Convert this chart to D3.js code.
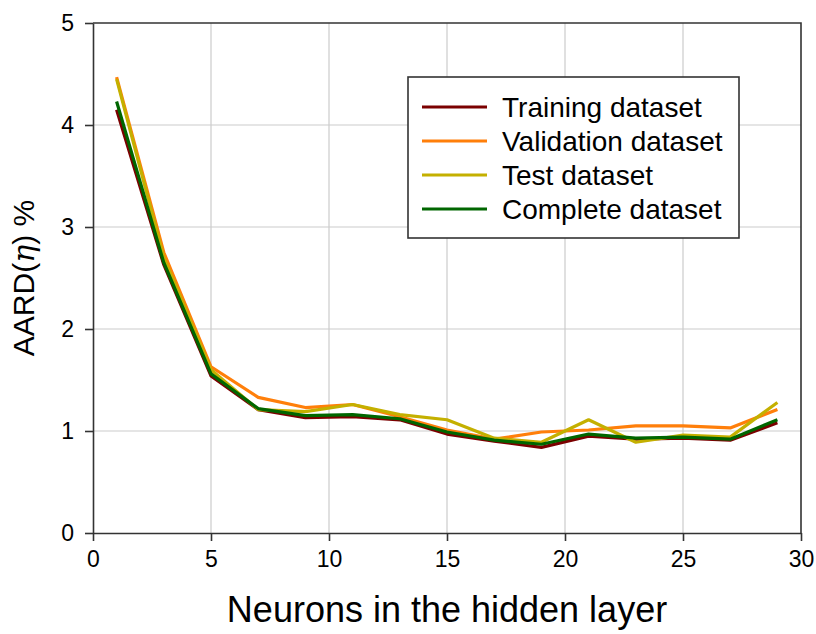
<!DOCTYPE html>
<html>
<head>
<meta charset="utf-8">
<script src="https://cdn.jsdelivr.net/npm/d3@7"></script>
<style>
  body { margin: 0; background: #fff; }
  svg { display: block; font-family: "Liberation Sans", Arial, sans-serif; }
</style>
</head>
<body>
<div id="mainDiv"></div>
<script>
const neurons = [1, 3, 5, 7, 9, 11, 13, 15, 17, 19, 21, 23, 25, 27, 29];

const training = [4.15, 2.63, 1.54, 1.21, 1.13, 1.14, 1.11, 0.97, 0.90, 0.84, 0.95, 0.92, 0.93, 0.91, 1.08];
const validation = [4.47, 2.75, 1.63, 1.33, 1.23, 1.26, 1.14, 1.01, 0.92, 0.99, 1.01, 1.05, 1.05, 1.03, 1.21];
const test = [4.45, 2.70, 1.60, 1.21, 1.19, 1.26, 1.16, 1.11, 0.93, 0.89, 1.11, 0.89, 0.96, 0.94, 1.28];
const complete = [4.23, 2.65, 1.56, 1.22, 1.15, 1.16, 1.12, 0.99, 0.91, 0.87, 0.97, 0.93, 0.94, 0.92, 1.11];

const seriesNames = ["Training dataset", "Validation dataset", "Test dataset", "Complete dataset"];
const seriesColors = ["#7b0000", "#ff7f0a", "#c4b000", "#006600"];

const xTicks = [0, 5, 10, 15, 20, 25, 30];
const yTicks = [0, 1, 2, 3, 4, 5];

const chart = {
  width: 816,
  height: 634,
  margin: { top: 23, right: 15, bottom: 101, left: 93 },
};

const seriesList = [training, validation, test, complete].map((values, i) => ({
  name: seriesNames[i],
  color: seriesColors[i],
  values: values,
}));

let x = d3.scaleLinear()
  .domain([0, 30])
  .range([chart.margin.left, chart.width - chart.margin.right]);

let y = d3.scaleLinear()
  .domain([0, 5])
  .range([chart.height - chart.margin.bottom, chart.margin.top]);

const svg = d3.select("#mainDiv")
  .append("svg")
  .attr("width", chart.width)
  .attr("height", chart.height);

// grid
svg.append("g")
  .selectAll("line")
  .data(xTicks.slice(1, -1))
  .join("line")
  .attr("x1", d => x(d))
  .attr("x2", d => x(d))
  .attr("y1", y(0))
  .attr("y2", y(5))
  .attr("stroke", "#cccccc")
  .attr("stroke-width", 1.2);

svg.append("g")
  .selectAll("line")
  .data(yTicks.slice(1, -1))
  .join("line")
  .attr("x1", x(0))
  .attr("x2", x(30))
  .attr("y1", d => y(d))
  .attr("y2", d => y(d))
  .attr("stroke", "#cccccc")
  .attr("stroke-width", 1.2);

// lines
let line = d3.line()
  .x((d, i) => x(neurons[i]))
  .y(d => y(d));

svg.append("g")
  .selectAll("path")
  .data(seriesList)
  .join("path")
  .attr("d", d => line(d.values))
  .attr("fill", "none")
  .attr("stroke", d => d.color)
  .attr("stroke-width", 3.2)
  .attr("stroke-linejoin", "round");

// axes
let xAxis = g => g
  .attr("transform", `translate(0,${y(0)})`)
  .call(d3.axisBottom(x).tickValues(xTicks).tickFormat(d3.format("d"))
    .tickSize(8).tickPadding(10).tickSizeOuter(0));

let yAxis = g => g
  .attr("transform", `translate(${x(0)},0)`)
  .call(d3.axisLeft(y).tickValues(yTicks).tickFormat(d3.format("d"))
    .tickSize(8).tickPadding(11).tickSizeOuter(0));

svg.append("g").call(xAxis);
svg.append("g").call(yAxis);

svg.selectAll(".tick text")
  .attr("font-size", 23)
  .attr("font-family", "Liberation Sans, Arial, sans-serif")
  .attr("fill", "#000");

svg.selectAll(".domain, .tick line")
  .attr("stroke", "#333")
  .attr("stroke-width", 1.6);

// top and right frame
svg.append("path")
  .attr("d", `M${x(0)},${y(5)}H${x(30)}V${y(0)}`)
  .attr("fill", "none")
  .attr("stroke", "#333")
  .attr("stroke-width", 1.6);

// axis titles
svg.append("text")
  .attr("x", x(15))
  .attr("y", 622)
  .attr("text-anchor", "middle")
  .attr("font-size", 36)
  .text("Neurons in the hidden layer");

const yTitle = svg.append("text")
  .attr("transform", `translate(34,${y(2.5)}) rotate(-90)`)
  .attr("text-anchor", "middle")
  .attr("font-size", 30);
yTitle.append("tspan").text("AARD(");
yTitle.append("tspan")
  .attr("font-family", "DejaVu Serif, serif")
  .attr("font-style", "italic")
  .text("η");
yTitle.append("tspan").text(") %");

// legend
const legend = {
  x: 408,
  y: 77,
  width: 331,
  height: 161,
  rowStart: 107,
  rowGap: 34,
};

svg.append("rect")
  .attr("x", legend.x)
  .attr("y", legend.y)
  .attr("width", legend.width)
  .attr("height", legend.height)
  .attr("fill", "#fff")
  .attr("stroke", "#333")
  .attr("stroke-width", 1.6);

const legendRows = svg.append("g")
  .selectAll("g")
  .data(seriesList)
  .join("g")
  .attr("transform", (d, i) => `translate(${legend.x},${legend.rowStart + i * legend.rowGap})`);

legendRows.append("line")
  .attr("x1", 14)
  .attr("x2", 79)
  .attr("stroke", d => d.color)
  .attr("stroke-width", 3.2);

legendRows.append("text")
  .attr("x", 94)
  .attr("y", 10)
  .attr("font-size", 28)
  .text(d => d.name);
</script>
</body>
</html>
